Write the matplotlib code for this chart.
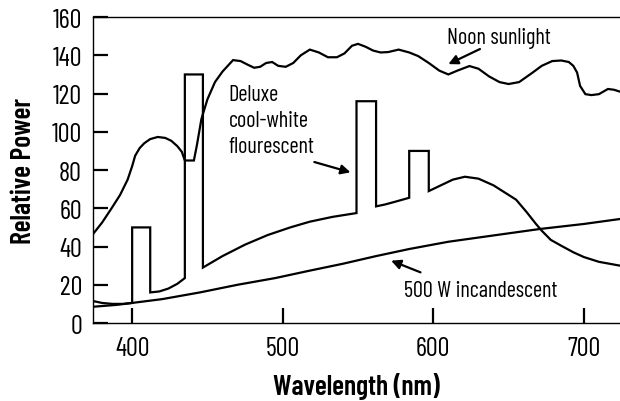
import matplotlib
matplotlib.use("Agg")
import matplotlib.pyplot as plt

plt.rcParams['font.family'] = ['Barlow Condensed', 'Roboto Condensed', 'DejaVu Sans']

# Noon sunlight
sun_wl = [374, 380, 386, 392, 397, 400, 402, 405, 408, 412, 417, 422, 426, 430, 433, 435, 441,
          443, 446, 450, 455, 460, 467, 472, 477, 481, 485, 489, 493, 497, 502, 507, 512, 518,
          524, 530, 536, 541, 546, 550, 555, 560, 565, 570, 577, 584, 590, 597, 604, 610, 616,
          624, 630, 637, 644, 650, 657, 666, 672, 679, 685, 690, 693, 695.5, 697.5, 701, 705,
          710, 716, 720, 724]
sun_val = [46.5, 52.5, 59.6, 67, 75, 82, 87.5, 91.5, 94, 96.2, 97.3, 96.8, 95.3, 92.5, 89.5, 85, 85,
           93, 106.7, 117, 126, 131.5, 137.5, 137, 135, 133.5, 134, 136, 136.5, 134.5, 134, 136, 140, 143,
           141.5, 139, 139, 141, 145, 146, 144.5, 142.5, 141.5, 141.7, 143, 141.5, 139.6, 136, 132, 130, 132,
           134.4, 133, 129, 126, 125, 126, 131, 134.5, 137, 137.3, 136.5, 134.5, 131, 124, 119.7, 119.2,
           119.7, 122.4, 122, 121]

# Deluxe cool-white fluorescent
flu_wl = [374, 380, 387, 394, 400, 400, 412, 412, 418, 424, 430, 435, 435, 447, 447, 460, 475,
          490, 505, 518, 533, 549, 549, 562, 562, 568, 575, 584, 584, 597, 597, 605, 613, 621,
          630, 640, 648, 655, 662, 668, 672, 678, 685, 693, 700, 710, 724]
flu_val = [11.5, 10.5, 10, 10, 10.5, 50, 50, 16, 16.5, 18, 20.5, 23.5, 130, 130, 29, 35, 41,
           46, 50, 53, 55.5, 57.5, 116, 116, 61, 62, 63.5, 65.5, 90, 90, 69, 72, 75, 76.5,
           75.5, 72, 68, 64.5, 58, 52, 48.3, 43.5, 40.4, 37, 34.5, 32, 30]

# 500 W incandescent
inc_wl = [374, 390, 400, 420, 445, 470, 495, 518, 540, 562, 584, 610, 640, 671, 700, 724]
inc_val = [8.5, 9.5, 10.5, 12.5, 16, 20, 23.5, 27.4, 31, 35, 38.7, 42.5, 45.8, 49.2, 51.8, 54.4]

fig = plt.figure(figsize=(6.2, 4.02), dpi=100)
ax = fig.add_axes([0.15, 0.194, 0.85, 0.761])

for x, y in [(sun_wl, sun_val), (flu_wl, flu_val), (inc_wl, inc_val)]:
    ax.plot(x, y, color='black', lw=1.6, solid_joinstyle='miter')

ax.set_xlim(374, 724)
ax.set_ylim(0, 160)
ax.set_xticks([400, 500, 600, 700])
ax.set_yticks(range(0, 161, 20))
ax.tick_params(direction='in', length=11, width=1.6, labelsize=19)
ax.tick_params(axis='x', pad=9)
ax.tick_params(axis='y', pad=8)
ax.spines['right'].set_visible(False)
for s in ['left', 'bottom', 'top']:
    ax.spines[s].set_linewidth(1.0)

ax.set_xlabel('Wavelength (nm)', fontsize=20, fontweight='semibold', labelpad=9)
ax.set_ylabel('Relative Power', fontsize=20, fontweight='semibold', labelpad=11)

arrow = dict(arrowstyle='-|>', color='black', lw=1.6, mutation_scale=14, shrinkA=0, shrinkB=0)
ax.annotate('', xy=(610, 135.4), xytext=(631, 143.3), arrowprops=arrow)
ax.text(609, 149.5, 'Noon sunlight', fontsize=16, va='center', ha='left')

ax.text(464, 106, 'Deluxe\ncool-white\nflourescent', fontsize=16, va='center', ha='left',
        linespacing=1.3)
ax.annotate('', xy=(545, 78.8), xytext=(521, 84.2), arrowprops=arrow)

ax.text(580.5, 16.9, '500 W incandescent', fontsize=16, va='center', ha='left')
ax.annotate('', xy=(572, 32.6), xytext=(591.5, 26.5), arrowprops=arrow)

fig.savefig('out.png', dpi=100)
